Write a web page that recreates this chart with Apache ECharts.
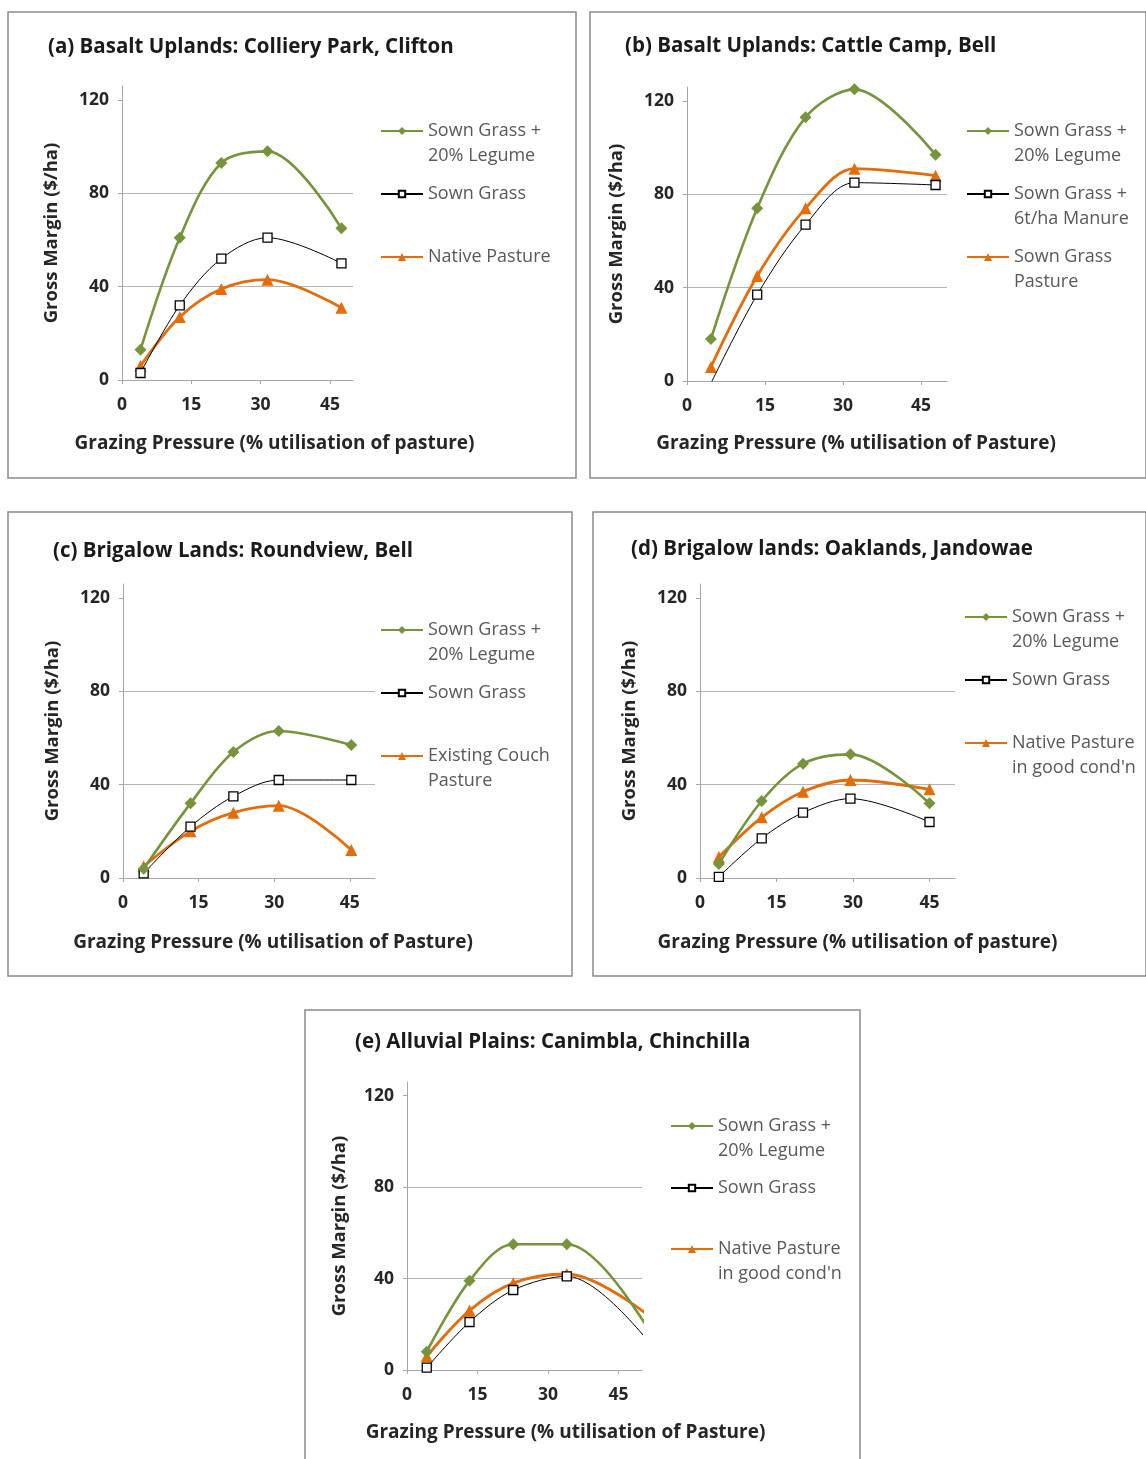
<!DOCTYPE html>
<html>
<head>
<meta charset="utf-8">
<script src="https://cdn.jsdelivr.net/npm/echarts@6/dist/echarts.min.js"></script>
<style>
  html, body { margin: 0; padding: 0; background: #fff; }
  #main { width: 1146px; height: 1459px; }
</style>
</head>
<body>
<div id="main"></div>
<script>
'use strict';

// grazing pressure (% utilisation) for each site
const xA = [4, 12.5, 21.5, 31.5, 47.5];
const xB = [4.6, 13.5, 22.8, 32.2, 47.8];
const xC = [4.1, 13.4, 21.9, 30.9, 45.3];
const xD = [3.7, 12.1, 20.2, 29.5, 45];
const xE = [4.2, 13.3, 22.6, 34, 55];

// gross margin ($/ha)
const legumeA = [13, 61, 93, 98, 65];
const sownA = [3, 32, 52, 61, 50];
const nativeA = [6, 27, 39, 43, 31];

const legumeB = [18, 74, 113, 125, 97];
const manureB = [-1, 37, 67, 85, 84];
const sownPastureB = [6, 45, 74, 91, 88];

const legumeC = [4, 32, 54, 63, 57];
const sownC = [2, 22, 35, 42, 42];
const couchC = [5, 20, 28, 31, 12];

const legumeD = [6, 33, 49, 53, 32];
const sownD = [0.5, 17, 28, 34, 24];
const nativeD = [9, 26, 37, 42, 38];

const legumeE = [8, 39, 55, 55, 5];
const sownE = [1, 21, 35, 41, 3];
const nativeE = [6, 26, 38, 42, 18];

const titles = [
	'(a) Basalt Uplands: Colliery Park, Clifton',
	'(b) Basalt Uplands: Cattle Camp, Bell',
	'(c) Brigalow Lands: Roundview, Bell',
	'(d) Brigalow lands: Oaklands, Jandowae',
	'(e) Alluvial Plains: Canimbla, Chinchilla'
];
const xNames = [
	'Grazing Pressure (% utilisation of pasture)',
	'Grazing Pressure (% utilisation of Pasture)',
	'Grazing Pressure (% utilisation of Pasture)',
	'Grazing Pressure (% utilisation of pasture)',
	'Grazing Pressure (% utilisation of Pasture)'
];
const xTicks = [0, 15, 30, 45];
const yTicks = [0, 40, 80, 120];

const LEGUME = 'Sown Grass +\n20% Legume';
const SOWN = 'Sown Grass';
const NATIVE = 'Native Pasture';
const MANURE = 'Sown Grass +\n6t/ha Manure';
const SOWN_PASTURE = 'Sown Grass\nPasture';
const COUCH = 'Existing Couch\nPasture';
const NATIVE_GOOD = 'Native Pasture\nin good cond\'n';

// each panel: data + where things sit on the page
const panels = [
	{ x: xA, lines: [[LEGUME, legumeA, 'g'], [SOWN, sownA, 'k'], [NATIVE, nativeA, 'o']],
	  box: [8, 12, 568, 466], grid: [122, 86, 231, 294], title: [48, 36.5],
	  xName: [54, 37], yGap: 61, legend: [380, [131, 194, 257]] },
	{ x: xB, lines: [[LEGUME, legumeB, 'g'], [MANURE, manureB, 'k'], [SOWN_PASTURE, sownPastureB, 'o']],
	  box: [590, 12, 556, 466], grid: [687, 87, 260, 294], title: [625, 35.5],
	  xName: [53, 39], yGap: 61, legend: [966, [131, 194, 257]] },
	{ x: xC, lines: [[LEGUME, legumeC, 'g'], [SOWN, sownC, 'k'], [COUCH, couchC, 'o']],
	  box: [8, 512, 564, 464], grid: [123, 584, 252, 294], title: [53, 540.5],
	  xName: [55, 24], yGap: 61, legend: [380, [630, 693, 756]] },
	{ x: xD, lines: [[LEGUME, legumeD, 'g'], [SOWN, sownD, 'k'], [NATIVE_GOOD, nativeD, 'o']],
	  box: [593, 512, 553, 464], grid: [700, 584, 255, 294], title: [631, 538.5],
	  xName: [55, 30], yGap: 61, legend: [964, [617, 680, 743]] },
	{ x: xE, lines: [[LEGUME, legumeE, 'g'], [SOWN, sownE, 'k'], [NATIVE_GOOD, nativeE, 'o']],
	  box: [305, 1010, 555, 460], grid: [407, 1082, 235, 288], title: [355, 1031.5],
	  xName: [53, 41], yGap: 58, legend: [670, [1126, 1188, 1249]] }
];

const FONT = 'Open Sans';
const styles = {
	g: { color: '#77933C', width: 2.6, symbol: 'diamond', size: 12, legendH: 10 },
	k: { color: '#000000', width: 1, symbol: 'rect', size: 9, legendH: 8 },
	o: { color: '#E46C0A', width: 2.8, symbol: 'triangle', size: 12, legendH: 10 }
};

const option = {
	backgroundColor: '#ffffff',
	animation: false,
	title: [],
	grid: [],
	xAxis: [],
	yAxis: [],
	legend: [],
	series: [],
	graphic: []
};

panels.forEach(function(p, i) {
	option.graphic.push({
		type: 'rect',
		shape: { x: p.box[0], y: p.box[1], width: p.box[2], height: p.box[3] },
		style: { fill: 'none', stroke: '#8a8a8a', lineWidth: 1.5 },
		z: -1
	});

	option.title.push({
		text: titles[i],
		left: p.title[0],
		top: p.title[1],
		padding: 0,
		textStyle: { fontFamily: FONT, fontWeight: 'bold', fontSize: 20.5, color: '#1a1a1a' }
	});

	option.grid.push({
		left: p.grid[0], top: p.grid[1], width: p.grid[2], height: p.grid[3],
		containLabel: false
	});

	option.xAxis.push({
		type: 'value',
		gridIndex: i,
		min: 0, max: 50, interval: 15,
		name: xNames[i],
		nameLocation: 'middle',
		nameGap: p.xName[0],
		nameTextStyle: {
			fontFamily: FONT, fontWeight: 'bold', fontSize: 19, color: '#262626',
			padding: [0, 0, 0, p.xName[1] * 2]
		},
		axisLine: { onZero: false, lineStyle: { color: '#a6a6a6', width: 1 } },
		axisTick: { show: true, length: 4, customValues: xTicks, lineStyle: { color: '#a6a6a6' } },
		axisLabel: {
			customValues: xTicks, margin: 16,
			fontFamily: FONT, fontWeight: 'bold', fontSize: 17.5, color: '#262626'
		},
		splitLine: { show: false }
	});

	option.yAxis.push({
		type: 'value',
		gridIndex: i,
		min: 0, max: 126, interval: 40,
		name: 'Gross Margin ($/ha)',
		nameLocation: 'middle',
		nameGap: p.yGap,
		nameRotate: 90,
		nameTextStyle: { fontFamily: FONT, fontWeight: 'bold', fontSize: 18.5, color: '#262626' },
		axisLine: { show: true, lineStyle: { color: '#a6a6a6', width: 1 } },
		axisTick: { show: true, length: 4, customValues: yTicks, lineStyle: { color: '#a6a6a6' } },
		axisLabel: {
			customValues: yTicks, margin: 13,
			fontFamily: FONT, fontWeight: 'bold', fontSize: 17.5, color: '#262626'
		},
		splitLine: { show: true, showMaxLine: false, lineStyle: { color: '#b4b4b4', width: 1 } }
	});

	p.lines.forEach(function(l, j) {
		const st = styles[l[2]];
		const pts = p.x.map(function(xv, k) { return [xv, l[1][k]]; });
		option.series.push({
			name: l[0],
			type: 'line',
			xAxisIndex: i,
			yAxisIndex: i,
			data: pts,
			smooth: 0.33,
			clip: true,
			symbol: st.symbol,
			symbolSize: st.size,
			showSymbol: true,
			lineStyle: { color: st.color, width: st.width },
			itemStyle: l[2] === 'k'
				? { color: '#ffffff', borderColor: '#000000', borderWidth: 1.3 }
				: { color: st.color, borderColor: st.color, borderWidth: 0 },
			z: 3 - j
		});

		// two-line names get a blank first line so the icon sits by the first line
		const twoLine = l[0].indexOf('\n') >= 0;
		option.legend.push({
			data: [l[0]],
			left: p.legend[0],
			top: p.legend[1][j] - (twoLine ? 37.5 : 12.5),
			padding: 0,
			itemWidth: 42,
			itemHeight: st.legendH,
			selectedMode: false,
			formatter: function(name) { return twoLine ? ' \n' + name : name; },
			textStyle: {
				fontFamily: FONT, fontSize: 18, color: '#595959',
				lineHeight: 25
			}
		});
	});
});

const myChart = echarts.init(document.getElementById('main'));
myChart.setOption(option);
</script>
</body>
</html>
